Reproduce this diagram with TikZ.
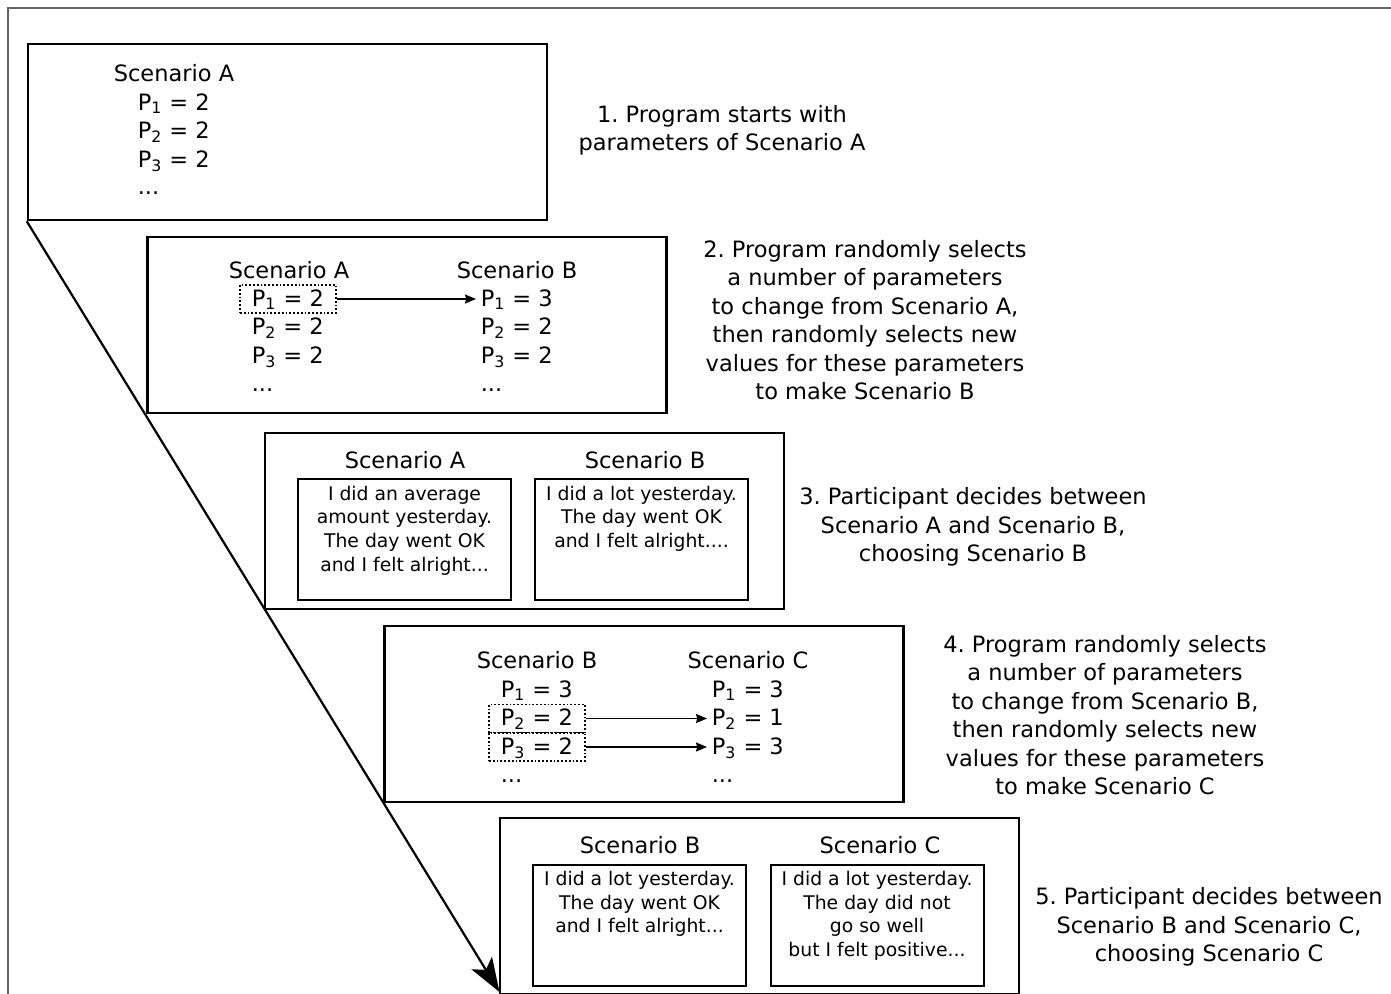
\documentclass[tikz,border=0pt]{standalone}
\usepackage{fontspec}
\setmainfont{DejaVu Sans}
\usetikzlibrary{arrows.meta,positioning}

\definecolor{framegray}{RGB}{100,100,100}
\tikzset{every picture/.style={line width=0.75pt}}
\frenchspacing

\begin{document}
\begin{tikzpicture}[x=0.5pt,y=0.5pt,yscale=-1,
	stage/.style={draw,line width=1.25pt,minimum width=259.5pt,minimum height=88pt,inner sep=0pt},
	card/.style={draw,line width=1pt,minimum width=106.5pt,minimum height=60.5pt,inner sep=0pt},
	cardtext/.style={inner sep=0pt,align=center,font=\fontsize{9.4}{11.85}\selectfont},
	label/.style={align=center,font=\fontsize{11.25}{14.2}\selectfont},
	title/.style={anchor=base,inner sep=0pt,font=\fontsize{11.25}{14.2}\selectfont},
	pval/.style={anchor=base west,inner xsep=2pt,inner ysep=0pt,text height=10.5pt,text depth=3.5pt,font=\fontsize{11.25}{14.2}\selectfont},
	picked/.style={draw,densely dotted,line width=0.9pt,inner xsep=6pt},
	swap/.style={-{Stealth[length=5.5pt,width=4.5pt,inset=0.6pt]},line width=0.75pt}]
	\useasboundingbox (0,0) rectangle (1391,993);
	\clip (0,0) rectangle (1391,993);

	%Shape: Frame
	\draw [framegray,line width=1.1pt] (8,1000) -- (8,8) -- (1400,8) ;

	%Shape: Rectangle
	\draw (287.5,132) node[stage] (s1) {};
	%Shape: Rectangle
	\draw (407,325) node[stage] (s2) {};
	%Shape: Rectangle
	\draw (524.5,521) node[stage] (s3) {};
	%Shape: Rectangle
	\draw (644,714) node[stage] (s4) {};
	%Shape: Rectangle
	\draw (759.5,906) node[stage] (s5) {};

	%Straight Lines
	\coordinate (tip) at (499.5,992);
	\draw [line width=1.1pt,-{Stealth[length=17pt,width=12pt,inset=4pt]}] (s1.south west) -- (tip) ;

	% Stage 1
	\draw (174,81.5) node[title] (t1a) {Scenario A};
	\draw (133,110) node[pval] (a1p1) {P\textsubscript{1} = 2};
	\draw (133,138.5) node[pval] (a1p2) {P\textsubscript{2} = 2};
	\draw (133,167) node[pval] (a1p3) {P\textsubscript{3} = 2};
	\draw (133,194) node[pval] (a1p4) {...};

	% Stage 2
	\draw (289,278.5) node[title] (t2a) {Scenario A};
	\draw (517,278.5) node[title] (t2b) {Scenario B};
	\draw (239,306) node[pval,picked] (a2p1) {P\textsubscript{1} = 2};
	\draw (247,334.5) node[pval] (a2p2) {P\textsubscript{2} = 2};
	\draw (247,363) node[pval] (a2p3) {P\textsubscript{3} = 2};
	\draw (247,391) node[pval] (a2p4) {...};
	\draw (476,306) node[pval] (b2p1) {P\textsubscript{1} = 3};
	\draw (476,334.5) node[pval] (b2p2) {P\textsubscript{2} = 2};
	\draw (476,363) node[pval] (b2p3) {P\textsubscript{3} = 2};
	\draw (476,391) node[pval] (b2p4) {...};
	%Straight Lines
	\draw [swap] (a2p1.east) -- (b2p1.west) ;

	% Stage 3
	\draw (405,468.5) node[title] (t3a) {Scenario A};
	\draw (645,468.5) node[title] (t3b) {Scenario B};
	\draw (404.5,539.5) node[card] (c3a) {};
	\draw (641.5,539.5) node[card] (c3b) {};
	\node [cardtext,below=3.5pt of c3a.north] (x3a) {I did an average\\amount yesterday.\\The day went OK\\and I felt alright...};
	\node [cardtext,below=3.5pt of c3b.north] (x3b) {I did a lot yesterday.\\The day went OK\\and I felt alright....};

	% Stage 4
	\draw (537,668.5) node[title] (t4b) {Scenario B};
	\draw (748,668.5) node[title] (t4c) {Scenario C};
	\draw (496,697) node[pval] (b4p1) {P\textsubscript{1} = 3};
	\draw (488,725.5) node[pval,picked] (b4p2) {P\textsubscript{2} = 2};
	\draw (488,754) node[pval,picked] (b4p3) {P\textsubscript{3} = 2};
	\draw (496,782) node[pval] (b4p4) {...};
	\draw (707,697) node[pval] (c4p1) {P\textsubscript{1} = 3};
	\draw (707,725.5) node[pval] (c4p2) {P\textsubscript{2} = 1};
	\draw (707,754) node[pval] (c4p3) {P\textsubscript{3} = 3};
	\draw (707,782) node[pval] (c4p4) {...};
	%Straight Lines
	\draw [swap] (b4p2.east) -- (c4p2.west) ;
	\draw [swap] (b4p3.east) -- (c4p3.west) ;

	% Stage 5
	\draw (640,853.5) node[title] (t5b) {Scenario B};
	\draw (880,853.5) node[title] (t5c) {Scenario C};
	\draw (639.5,925) node[card] (c5b) {};
	\draw (877,925) node[card] (c5c) {};
	\node [cardtext,below=3.5pt of c5b.north] (x5b) {I did a lot yesterday.\\The day went OK\\and I felt alright...};
	\node [cardtext,below=3.5pt of c5c.north] (x5c) {I did a lot yesterday.\\The day did not\\go so well\\but I felt positive...};

	% Text Node
	\draw (722,130) node[label] (n1) {1. Program starts with\\parameters of Scenario A};
	% Text Node
	\draw (865,320) node[label] (n2) {2. Program randomly selects\\a number of parameters\\to change from Scenario A,\\then randomly selects new\\values for these parameters\\to make Scenario B};
	% Text Node
	\draw (973,527) node[label] (n3) {3. Participant decides between\\Scenario A and Scenario B,\\choosing Scenario B};
	% Text Node
	\draw (1105,715) node[label] (n4) {4. Program randomly selects\\a number of parameters\\to change from Scenario B,\\then randomly selects new\\values for these parameters\\to make Scenario C};
	% Text Node
	\draw (1209,927) node[label] (n5) {5. Participant decides between\\Scenario B and Scenario C,\\choosing Scenario C};

\end{tikzpicture}
\end{document}
